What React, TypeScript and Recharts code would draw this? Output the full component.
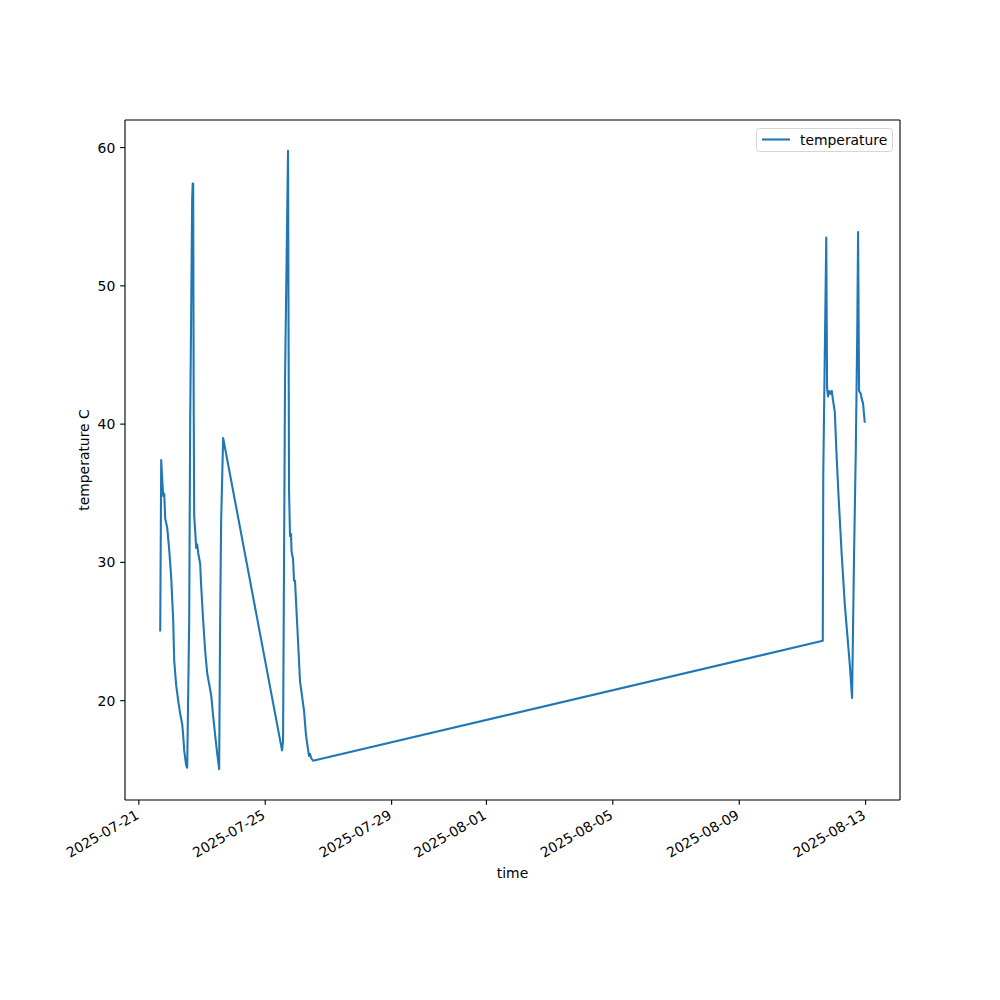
import React from "react";
import { LineChart, Line, XAxis, YAxis } from "recharts";

const TIMES: string[] = [
  "2025-07-21 16:15", "2025-07-21 17:00", "2025-07-21 17:46", "2025-07-21 18:32", "2025-07-21 19:17",
  "2025-07-21 20:03", "2025-07-21 21:34", "2025-07-21 23:05", "2025-07-22 00:36", "2025-07-22 02:07",
  "2025-07-22 02:52", "2025-07-22 04:23", "2025-07-22 05:54", "2025-07-22 07:25", "2025-07-22 08:56",
  "2025-07-22 09:42", "2025-07-22 10:27", "2025-07-22 11:58", "2025-07-22 12:44", "2025-07-22 14:15",
  "2025-07-22 15:00", "2025-07-22 16:31", "2025-07-22 16:54", "2025-07-22 17:17", "2025-07-22 17:40",
  "2025-07-22 18:02", "2025-07-22 18:48", "2025-07-22 19:33", "2025-07-22 20:19", "2025-07-22 21:04",
  "2025-07-22 22:35", "2025-07-22 23:21", "2025-07-23 00:52", "2025-07-23 02:23", "2025-07-23 03:54",
  "2025-07-23 05:25", "2025-07-23 06:56", "2025-07-23 08:27", "2025-07-23 09:58", "2025-07-23 11:29",
  "2025-07-23 13:00", "2025-07-23 13:45", "2025-07-23 14:31", "2025-07-23 16:02",
  "2025-07-25 12:46", "2025-07-25 13:32", "2025-07-25 15:03", "2025-07-25 17:19", "2025-07-25 18:05",
  "2025-07-25 18:50", "2025-07-25 19:36", "2025-07-25 19:58", "2025-07-25 20:21", "2025-07-25 21:07",
  "2025-07-25 21:52", "2025-07-25 22:38", "2025-07-25 23:23", "2025-07-26 00:54", "2025-07-26 02:25",
  "2025-07-26 03:56", "2025-07-26 05:27", "2025-07-26 06:58", "2025-07-26 08:29", "2025-07-26 09:15",
  "2025-07-26 10:00", "2025-07-26 10:46", "2025-07-26 12:17",
  "2025-08-11 15:28", "2025-08-11 15:51", "2025-08-11 18:07", "2025-08-11 18:44", "2025-08-11 19:29",
  "2025-08-11 20:15", "2025-08-11 21:19", "2025-08-11 22:18", "2025-08-11 23:17", "2025-08-12 00:35",
  "2025-08-12 01:50", "2025-08-12 03:20", "2025-08-12 05:50", "2025-08-12 08:10", "2025-08-12 10:30",
  "2025-08-12 12:00", "2025-08-12 13:43", "2025-08-12 15:14", "2025-08-12 16:31", "2025-08-12 17:40",
  "2025-08-12 18:17", "2025-08-12 19:02", "2025-08-12 20:20", "2025-08-12 20:52", "2025-08-12 22:04",
  "2025-08-12 23:22",
];

const TEMPS: number[] = [
  25.0, 37.4, 36.0, 34.8, 34.95,
  33.15, 32.5, 30.9, 28.9, 25.8,
  22.9, 21.1, 20.0, 19.05, 18.3,
  17.5, 16.4, 15.3, 15.15, 25.8,
  40.2, 56.2, 57.4, 57.4, 41.7,
  33.4, 32.3, 31.05, 31.3, 30.7,
  29.9, 28.3, 25.8, 23.6, 22.0,
  21.2, 20.4, 18.9, 17.5, 16.2,
  15.05, 25.8, 33.0, 39.0,
  16.4, 17.1, 43.3, 59.76, 35.2,
  31.9, 32.06, 30.8, 30.6, 30.26,
  28.67, 28.67, 27.2, 24.33, 21.4,
  20.35, 19.3, 17.5, 16.5, 16.0,
  16.15, 15.87, 15.65,
  24.33, 36.4, 53.5, 42.6, 42.0,
  42.4, 42.2, 42.4, 41.7, 40.9,
  38.0, 35.0, 30.6, 27.0, 24.3,
  22.6, 20.2, 30.6, 37.9, 46.7,
  53.9, 42.4, 42.2, 41.9, 41.5,
  40.1,
];

const X_TICK_DATES: string[] = [
  "2025-07-21", "2025-07-25", "2025-07-29", "2025-08-01", "2025-08-05", "2025-08-09", "2025-08-13",
];
const Y_TICKS: number[] = [20, 30, 40, 50, 60];

const SERIES_NAME = "temperature";
const X_LABEL = "time";
const Y_LABEL = "temperature C";

const toMs = (s: string): number => {
  const [d, t] = s.split(" ");
  const [y, m, day] = d.split("-").map(Number);
  const [hh, mm] = (t || "00:00").split(":").map(Number);
  return Date.UTC(y, m - 1, day, hh, mm);
};

const data = TIMES.map((t, i) => ({ t: toMs(t), v: TEMPS[i] }));
const xTicks = X_TICK_DATES.map(toMs);

const tMin = Math.min(...data.map((d) => d.t));
const tMax = Math.max(...data.map((d) => d.t));
const vMin = Math.min(...TEMPS);
const vMax = Math.max(...TEMPS);
const xPad = (tMax - tMin) * 0.05;
const yPad = (vMax - vMin) * 0.05;
const xDomain: [number, number] = [tMin - xPad, tMax + xPad];
const yDomain: [number, number] = [vMin - yPad, vMax + yPad];

const fmtDate = (ms: number): string => {
  const d = new Date(ms);
  const p = (n: number) => String(n).padStart(2, "0");
  return `${d.getUTCFullYear()}-${p(d.getUTCMonth() + 1)}-${p(d.getUTCDate())}`;
};

const FONT = "DejaVu Sans, sans-serif";
const FS = 13.9;
const TICK_LEN = 4.86;
const TICK_PAD = 4.86;
const SPINE_W = 1.11;

const XTick = (props: any) => {
  const { x, y, payload } = props;
  const tx = x + 1;
  const ty = y + 8;
  return (
    <text
      x={tx}
      y={ty}
      transform={`rotate(-30, ${tx}, ${ty})`}
      textAnchor="end"
      fill="#000"
      fontSize={FS}
      fontFamily={FONT}
    >
      {fmtDate(payload.value)}
    </text>
  );
};

export default function App() {
  return (
    <div style={{ position: "absolute", left: 0, top: 0, width: 1000, height: 1000, background: "#fff" }}>
      <LineChart
        width={1000}
        height={1000}
        data={data}
        margin={{ top: 119, right: 99, bottom: 140, left: 65 }}
      >
        <XAxis
          xAxisId="bottom"
          dataKey="t"
          type="number"
          scale="time"
          domain={xDomain}
          allowDataOverflow
          ticks={xTicks}
          interval={0}
          height={60}
          tickSize={TICK_LEN}
          tickMargin={TICK_PAD}
          stroke="#000"
          tickLine={{ stroke: "#000", strokeWidth: SPINE_W }}
          axisLine={{ stroke: "#000", strokeWidth: SPINE_W }}
          tick={<XTick />}
        />
        <XAxis
          xAxisId="top"
          orientation="top"
          dataKey="t"
          type="number"
          domain={xDomain}
          allowDataOverflow
          height={1}
          stroke="#000"
          tick={false}
          tickLine={false}
          axisLine={{ stroke: "#000", strokeWidth: SPINE_W }}
        />
        <YAxis
          yAxisId="left"
          type="number"
          domain={yDomain}
          allowDataOverflow
          ticks={Y_TICKS}
          interval={0}
          width={60}
          tickSize={TICK_LEN}
          tickMargin={TICK_PAD}
          stroke="#000"
          tickLine={{ stroke: "#000", strokeWidth: SPINE_W }}
          axisLine={{ stroke: "#000", strokeWidth: SPINE_W }}
          tick={{ fill: "#000", fontSize: FS, fontFamily: FONT }}
        />
        <YAxis
          yAxisId="right"
          orientation="right"
          type="number"
          domain={yDomain}
          allowDataOverflow
          width={1}
          stroke="#000"
          tick={false}
          tickLine={false}
          axisLine={{ stroke: "#000", strokeWidth: SPINE_W }}
        />
        <Line
          xAxisId="bottom"
          yAxisId="left"
          type="linear"
          dataKey="v"
          name={SERIES_NAME}
          stroke="#1f77b4"
          strokeWidth={2.08}
          strokeLinejoin="round"
          dot={false}
          activeDot={false}
          isAnimationActive={false}
        />
      </LineChart>
      <svg
        width={1000}
        height={1000}
        style={{ position: "absolute", left: 0, top: 0, pointerEvents: "none" }}
      >
        <text x={512.5} y={878} textAnchor="middle" fontSize={FS} fontFamily={FONT} fill="#000">
          {X_LABEL}
        </text>
        <text
          x={89}
          y={460}
          transform="rotate(-90, 89, 460)"
          textAnchor="middle"
          fontSize={FS}
          fontFamily={FONT}
          fill="#000"
        >
          {Y_LABEL}
        </text>
        <rect x={756.5} y={128.5} width={136} height={23} rx={3} ry={3} fill="#fff" stroke="#d6d6d6" strokeWidth={1} />
        <line x1={762} y1={139.5} x2={790} y2={139.5} stroke="#1f77b4" strokeWidth={2.08} />
        <text x={800} y={144.5} fontSize={FS} fontFamily={FONT} fill="#000">
          {SERIES_NAME}
        </text>
      </svg>
    </div>
  );
}
